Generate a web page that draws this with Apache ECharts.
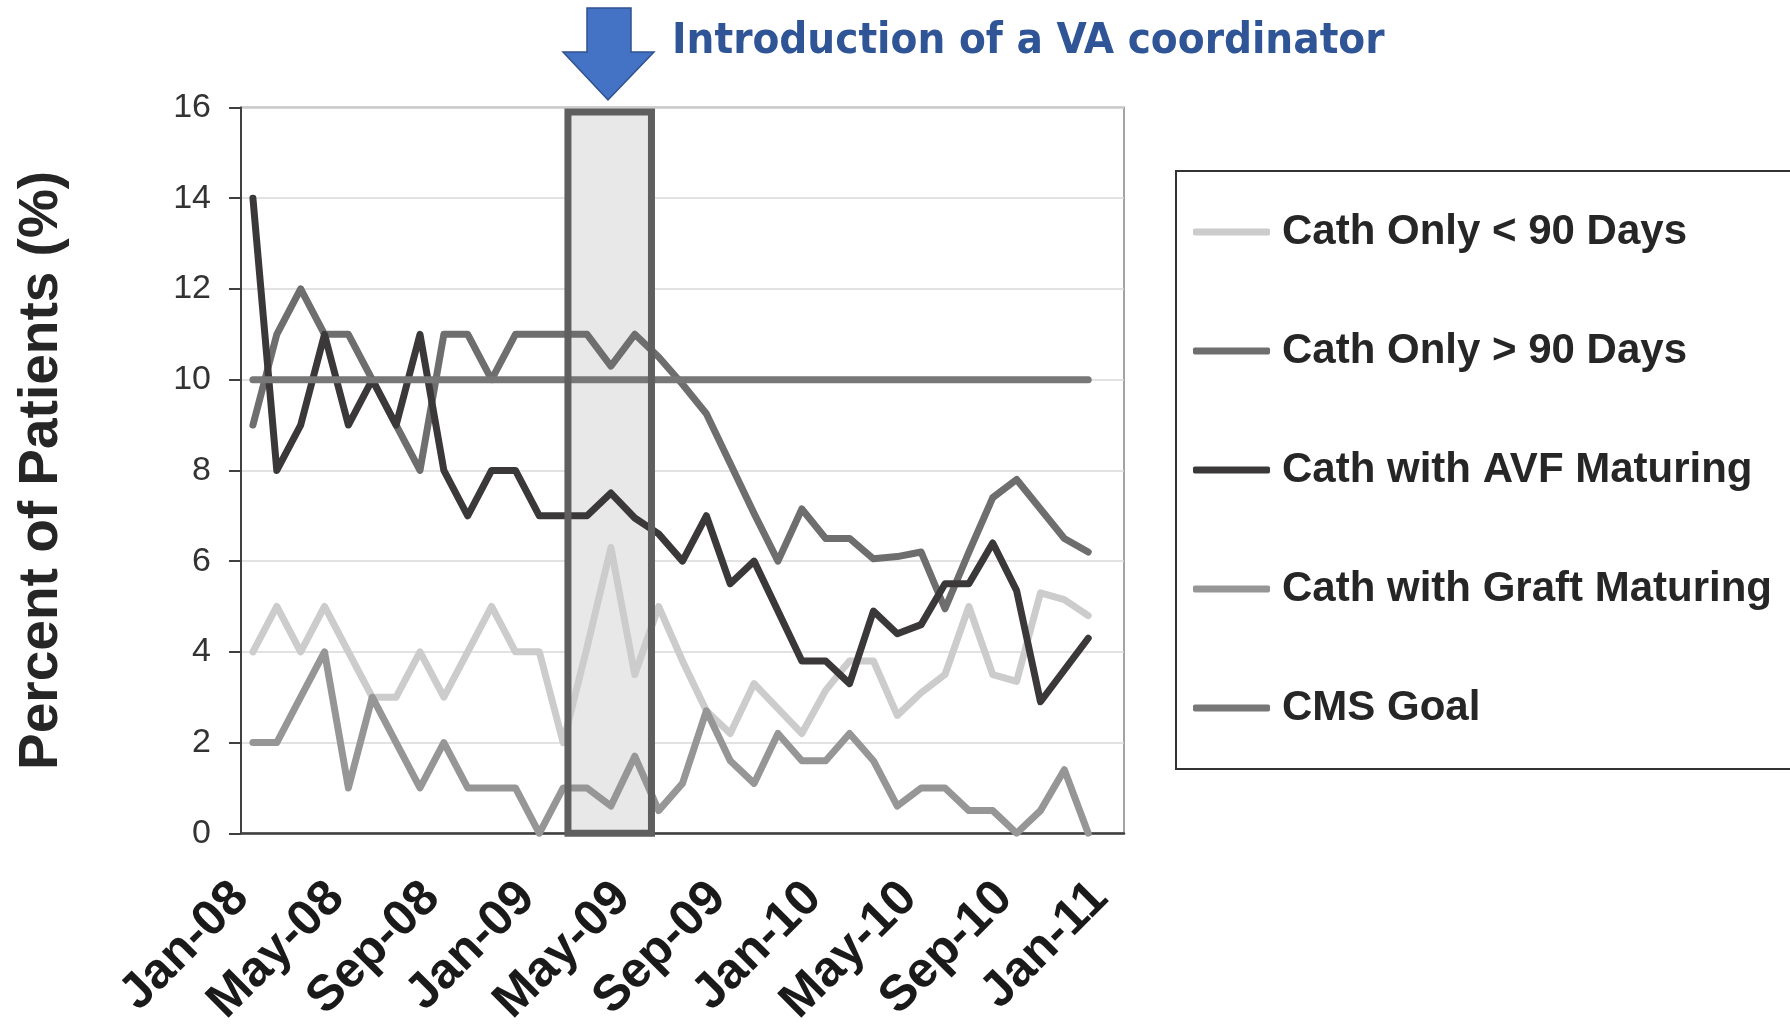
<!DOCTYPE html>
<html>
<head>
<meta charset="utf-8">
<script src="https://cdn.jsdelivr.net/npm/echarts@6/dist/echarts.min.js"></script>
<style>
  html, body { margin: 0; padding: 0; background: #fff; }
  #chart { width: 1790px; height: 1025px; }
</style>
</head>
<body>
<div id="chart"></div>
<script>
// months on the x axis (Jan-11 has no data)
const months = [
  'Jan-08', 'Feb-08', 'Mar-08', 'Apr-08', 'May-08', 'Jun-08', 'Jul-08', 'Aug-08', 'Sep-08', 'Oct-08', 'Nov-08', 'Dec-08',
  'Jan-09', 'Feb-09', 'Mar-09', 'Apr-09', 'May-09', 'Jun-09', 'Jul-09', 'Aug-09', 'Sep-09', 'Oct-09', 'Nov-09', 'Dec-09',
  'Jan-10', 'Feb-10', 'Mar-10', 'Apr-10', 'May-10', 'Jun-10', 'Jul-10', 'Aug-10', 'Sep-10', 'Oct-10', 'Nov-10', 'Dec-10',
  'Jan-11'
]

const cathUnder90 = [4, 5, 4, 5, 4, 3, 3, 4, 3, 4, 5, 4, 4, 2, 4.1, 6.3, 3.5, 5, 3.8, 2.7, 2.2, 3.3, 2.75, 2.2,
  3.15, 3.8, 3.8, 2.6, 3.1, 3.5, 5, 3.5, 3.35, 5.3, 5.15, 4.8]
const cathOver90 = [9, 11, 12, 11, 11, 10, 9, 8, 11, 11, 10, 11, 11, 11, 11, 10.3, 11, 10.5, 9.9, 9.25, 8.15, 7.05, 6, 7.15,
  6.5, 6.5, 6.05, 6.1, 6.2, 4.95, 6.2, 7.4, 7.8, 7.15, 6.5, 6.2]
const cathAvf = [14, 8, 9, 11, 9, 10, 9, 11, 8, 7, 8, 8, 7, 7, 7, 7.5, 6.95, 6.6, 6, 7, 5.5, 6, 4.9, 3.8,
  3.8, 3.3, 4.9, 4.4, 4.6, 5.5, 5.5, 6.4, 5.35, 2.9, 3.6, 4.3]
const cathGraft = [2, 2, 3, 4, 1, 3, 2, 1, 2, 1, 1, 1, 0, 1, 1, 0.6, 1.7, 0.5, 1.1, 2.7, 1.6, 1.1, 2.2, 1.6,
  1.6, 2.2, 1.6, 0.6, 1, 1, 0.5, 0.5, 0, 0.5, 1.4, 0]
const cmsGoal = [10, 10, 10, 10, 10, 10, 10, 10, 10, 10, 10, 10, 10, 10, 10, 10, 10, 10, 10, 10, 10, 10, 10, 10,
  10, 10, 10, 10, 10, 10, 10, 10, 10, 10, 10, 10]

const yTicks = [0, 2, 4, 6, 8, 10, 12, 14, 16]

// highlighted period, in months from Jan-08
const boxStart = 13.7
const boxEnd = 17.2
const boxTop = 15.9

const names = ['Cath Only < 90 Days', 'Cath Only > 90 Days', 'Cath with AVF Maturing', 'Cath with Graft Maturing', 'CMS Goal']
const colors = ['#cccccc', '#6e6e6e', '#3b3839', '#969696', '#777777']
const values = [cathUnder90, cathOver90, cathAvf, cathGraft, cmsGoal]

const font = "'Liberation Sans', Arial, sans-serif"

const chart = echarts.init(document.getElementById('chart'))

const lineSeries = names.map((n, i) => ({
  name: n,
  type: 'line',
  data: values[i],
  symbol: 'none',
  color: colors[i],
  z: 3 + i,
  lineStyle: { width: 7, color: colors[i], cap: 'round', join: 'round' }
}))

const option = {
  animation: false,
  backgroundColor: '#fff',
  title: {
    text: 'Introduction of a VA coordinator',
    left: 667,
    top: 15,
    textStyle: {
      fontFamily: "'Liberation Sans Narrow', 'DejaVu Sans Condensed', 'Noto Sans', sans-serif",
      fontSize: 43.5,
      fontWeight: 'bold',
      color: '#2f5597'
    }
  },
  grid: {
    left: 241,
    right: 666,
    top: 107.5,
    bottom: 191.7,
    outerBoundsMode: 'none',
    show: true,
    borderColor: '#a3a3a3',
    borderWidth: 2
  },
  legend: {
    orient: 'vertical',
    left: 1176,
    top: 171,
    data: names,
    icon: 'roundRect',
    itemWidth: 77,
    itemHeight: 7,
    itemGap: 77,
    padding: [40, 400, 40, 17],
    borderColor: '#333',
    borderWidth: 2,
    backgroundColor: '#fff',
    textStyle: {
      fontFamily: font,
      fontSize: 42,
      fontWeight: 'bold',
      color: '#262626',
      lineHeight: 42,
      padding: [0, 0, 0, 7]
    }
  },
  xAxis: [{
    type: 'category',
    data: months,
    boundaryGap: true,
    axisLine: { lineStyle: { color: '#404040', width: 2.5 } },
    axisTick: { interval: 3, length: 14, lineStyle: { color: '#404040', width: 2 } },
    axisLabel: {
      interval: 3,
      rotate: 45,
      margin: 45,
      padding: [0, 17, 0, 0],
      fontFamily: font,
      fontSize: 50,
      fontWeight: 'bold',
      color: '#1a1a1a'
    },
    splitLine: { show: false }
  }, {
    type: 'value',
    min: 0,
    max: months.length,
    show: false
  }],
  yAxis: {
    type: 'value',
    min: yTicks[0],
    max: yTicks[yTicks.length - 1],
    interval: 2,
    name: 'Percent of Patients (%)',
    nameLocation: 'middle',
    nameGap: 172,
    nameTextStyle: {
      fontFamily: font,
      fontSize: 55,
      fontWeight: 'bold',
      color: '#262626'
    },
    axisLine: { show: true, lineStyle: { color: '#404040', width: 2 } },
    axisTick: { show: true, length: 12, lineStyle: { color: '#404040', width: 2 } },
    axisLabel: { margin: 30, fontFamily: font, fontSize: 34, color: '#333' },
    splitLine: { lineStyle: { color: '#d9d9d9', width: 1.5 } }
  },
  series: [
    {
      name: 'box fill',
      type: 'line',
      xAxisIndex: 1,
      data: [],
      z: 1,
      markArea: {
        silent: true,
        z: 1,
        itemStyle: { color: '#e8e8e8', borderWidth: 0 },
        data: [[{ xAxis: boxStart, yAxis: 0 }, { xAxis: boxEnd, yAxis: boxTop }]]
      }
    },
    ...lineSeries,
    {
      name: 'box border',
      type: 'line',
      xAxisIndex: 1,
      data: [],
      z: 20,
      markArea: {
        silent: true,
        z: 20,
        itemStyle: { color: 'rgba(0,0,0,0)', borderColor: '#5f5f5f', borderWidth: 7 },
        data: [[{ xAxis: boxStart, yAxis: 0 }, { xAxis: boxEnd, yAxis: boxTop }]]
      }
    }
  ],
  graphic: [{
    type: 'polygon',
    shape: {
      points: [[587, 8], [631, 8], [631, 52], [654, 52], [608, 100], [563, 52], [587, 52]]
    },
    style: { fill: '#4472c4', stroke: '#2f528f', lineWidth: 1.5 },
    z: 30
  }]
}

chart.setOption(option)
</script>
</body>
</html>
